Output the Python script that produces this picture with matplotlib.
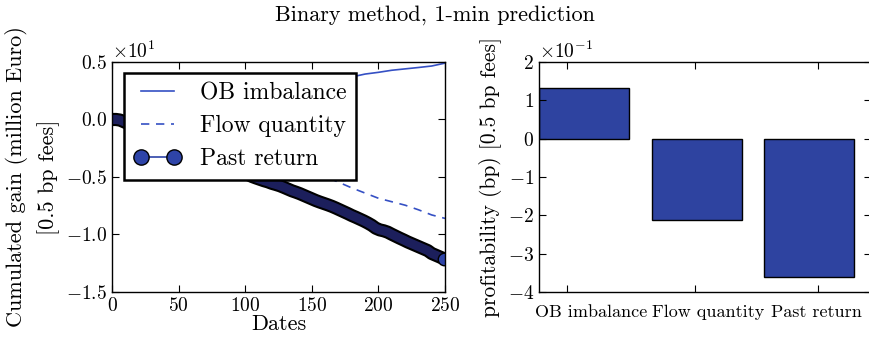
import numpy as np
import matplotlib
matplotlib.use("Agg")
import matplotlib.pyplot as plt
import matplotlib.patheffects as pe
from matplotlib.lines import Line2D
from matplotlib.ticker import ScalarFormatter

plt.rcParams['font.family'] = 'serif'
plt.rcParams['font.serif'] = ['cmr10']
plt.rcParams['mathtext.fontset'] = 'cm'
plt.rcParams['axes.formatter.use_mathtext'] = True
plt.rcParams['axes.unicode_minus'] = False
plt.rcParams['xtick.direction'] = 'in'
plt.rcParams['ytick.direction'] = 'in'
plt.rcParams['xtick.top'] = True
plt.rcParams['ytick.right'] = True

# cumulated gain, million Euro (left panel)
dates_past = np.arange(0, 250, 3)
past_return = [0.0, 0.0, -0.05, -0.2, -0.35, -0.5, -0.62, -0.78, -0.92, -1.05,
               -1.2, -1.38, -1.52, -1.65, -1.8, -1.96, -2.1, -2.25, -2.4, -2.52,
               -2.66, -2.82, -2.98, -3.12, -3.26, -3.4, -3.55, -3.7, -3.86, -4.0,
               -4.15, -4.3, -4.45, -4.62, -4.78, -4.95, -5.08, -5.2, -5.32, -5.42,
               -5.55, -5.65, -5.76, -5.9, -6.05, -6.2, -6.32, -6.45, -6.6, -6.75,
               -6.9, -7.05, -7.18, -7.3, -7.42, -7.55, -7.7, -7.86, -8.02, -8.18,
               -8.35, -8.5, -8.66, -8.82, -9.0, -9.2, -9.45, -9.6, -9.68, -9.8,
               -9.98, -10.15, -10.32, -10.48, -10.65, -10.8, -10.95, -11.1, -11.25, -11.4,
               -11.65, -11.8, -11.95, -12.1]

dates = np.arange(0, 251, 10)
ob_imbalance = [0.0, 0.2, 0.4, 0.6, 0.8, 1.0, 1.2, 1.4, 1.6, 1.8,
                2.0, 2.2, 2.4, 2.6, 2.8, 3.0, 3.2, 3.4, 3.7, 3.95,
                4.1, 4.28, 4.4, 4.52, 4.65, 4.9]
flow_quantity = [0.0, -0.2, -0.5, -0.8, -1.1, -1.4, -1.75, -2.1, -2.4, -2.7,
                 -3.0, -3.3, -3.6, -3.9, -4.2, -4.5, -4.95, -5.45, -5.95, -6.4,
                 -6.85, -7.15, -7.45, -7.85, -8.3, -8.6]

# average profitability, bp (right panel)
strategies = ['OB imbalance', 'Flow quantity', 'Past return']
profitability = [0.131, -0.211, -0.360]

blue = '#3550c4'
marker_blue = '#2e44a8'
band_navy = '#1c1f5c'
bar_blue = '#2e43a0'

fig = plt.figure(figsize=(8.69, 3.4), dpi=100)
ax1 = fig.add_axes([0.1289, 0.1412, 0.3832, 0.6765])
ax2 = fig.add_axes([0.6203, 0.1412, 0.3820, 0.6765])

ax1.plot(dates, ob_imbalance, '-', color=blue, lw=1.2)
ax1.plot(dates, flow_quantity, '--', color=blue, lw=1.2, dashes=(5, 4))
# densely drawn circles merge into a dark band in the original
ax1.plot(dates_past, past_return, '-', color=band_navy, lw=6.5,
         solid_capstyle='round',
         path_effects=[pe.Stroke(linewidth=9.5, foreground='black', capstyle='round'),
                       pe.Normal()])
ax1.plot(dates_past[-1:], past_return[-1:], 'o', color=marker_blue, mec='black',
         mew=1.0, ms=9)
ax1.set_xlim(0, 250)
ax1.set_ylim(-15, 5)
ax1.set_yticks([-15, -10, -5, 0, 5])
fmt = ScalarFormatter(useMathText=True)
fmt.set_powerlimits((1, 1))
ax1.yaxis.set_major_formatter(fmt)
ax1.set_xlabel('Dates', fontsize=16, labelpad=0)
ax1.set_ylabel('Cumulated gain (million Euro)\n[0.5 bp fees]', fontsize=16,
               linespacing=1.55, labelpad=4)

handles = [Line2D([], [], color=blue, lw=1.2),
           Line2D([], [], color=blue, lw=1.2, ls='--', dashes=(5, 4)),
           Line2D([], [], color=marker_blue, lw=1.2, marker='o', ms=11,
                  mec='black', mew=1.0)]
leg = ax1.legend(handles, ['OB imbalance', 'Flow quantity', 'Past return'],
                 loc='upper left', bbox_to_anchor=(0.036, 0.952), borderaxespad=0,
                 fancybox=False, fontsize=17, numpoints=2, handlelength=2.0,
                 framealpha=1, edgecolor='black', labelspacing=0.45)
leg.get_frame().set_linewidth(1.8)

x = np.arange(len(strategies))
ax2.bar(x, profitability, width=0.8, align='edge', color=bar_blue,
        edgecolor='black', lw=1.0)
ax2.set_xlim(0, 2.95)
ax2.set_ylim(-0.4, 0.2)
ax2.set_yticks([-0.4, -0.3, -0.2, -0.1, 0.0, 0.1, 0.2])
fmt2 = ScalarFormatter(useMathText=True)
fmt2.set_powerlimits((-1, -1))
ax2.yaxis.set_major_formatter(fmt2)
ax2.set_xticks([0.25, 1.39, 2.48])
ax2.set_xticklabels(['', '', ''])
ax2.set_xticks([0.46, 1.505, 2.465], minor=True)
ax2.set_xticklabels(strategies, minor=True)
ax2.tick_params(axis='x', which='minor', length=0, pad=9, labelsize=13)
ax2.set_ylabel('profitability (bp) [0.5 bp fees]', fontsize=15.5, labelpad=4)

for ax in (ax1, ax2):
    ax.tick_params(which='major', length=5, width=0.8, labelsize=14)
    ax.yaxis.get_offset_text().set_fontsize(14)
    for s in ax.spines.values():
        s.set_linewidth(1.0)

fig.suptitle('Binary method, 1-min prediction', fontsize=16, y=0.955, va='center')

fig.savefig('out.png', dpi=100)
